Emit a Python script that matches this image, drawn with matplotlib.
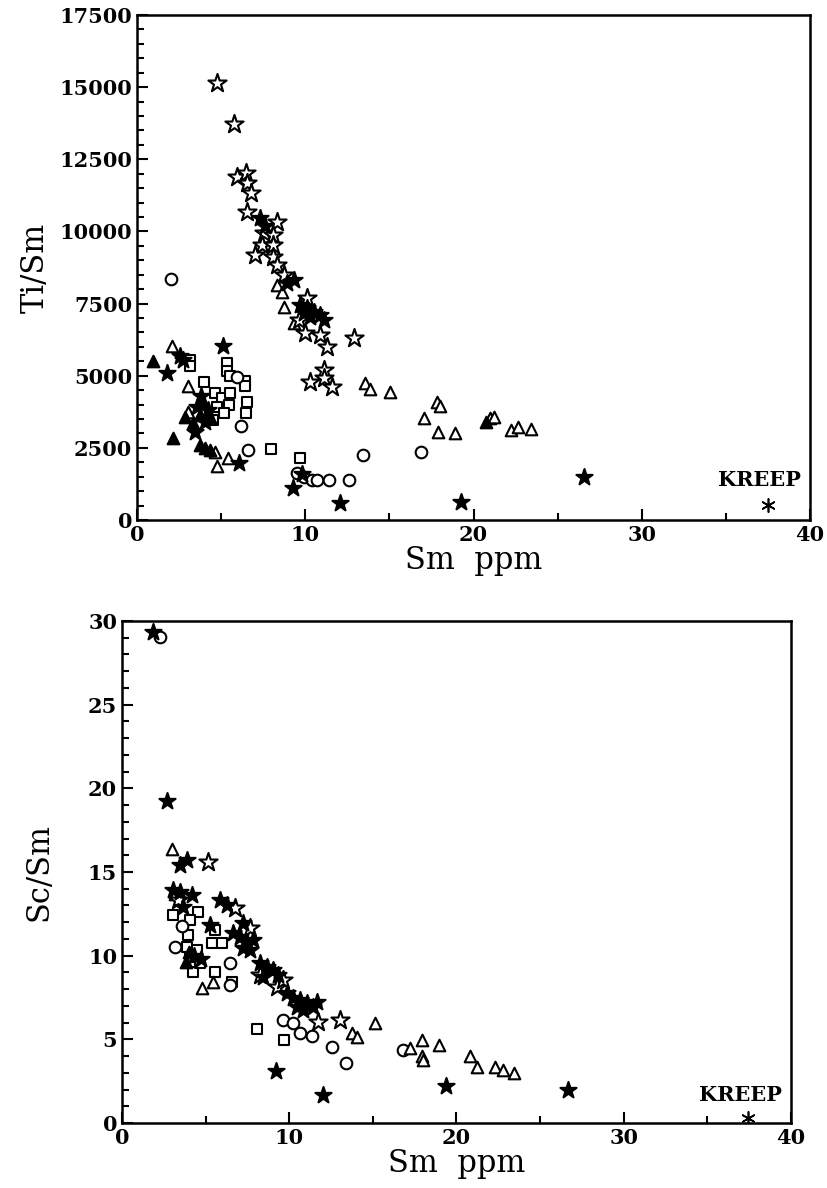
import matplotlib
matplotlib.use('Agg')
import matplotlib.pyplot as plt
from matplotlib.ticker import MultipleLocator

# ---- Ti/Sm vs Sm (upper panel) ----
ti_ostar_x = [4.78, 5.77, 5.93, 6.49, 6.53, 6.77, 6.53, 8.32, 7.52, 8.11, 7.42, 8.11, 7.02, 8.11,
              8.32, 8.71, 10.1, 9.6, 10.0, 10.9, 11.3, 12.9, 10.3, 11.1, 11.13, 11.6]
ti_ostar_y = [15150, 13720, 11900, 12010, 11690, 11320, 10680, 10340, 9930, 9870, 9530, 9530, 9180, 9120,
              8840, 8490, 7680, 6930, 6470, 6410, 6010, 6300, 4790, 5200, 4910, 4620]
ti_fstar_x = [7.32, 7.6, 8.91, 9.3, 9.7, 10.1, 10.5, 10.9, 10.3, 9.9, 11.1, 9.8, 9.27, 12.08, 1.8,
              2.56, 2.76, 5.1, 3.45, 6.09, 19.27, 26.57, 3.55, 4.24, 4.05, 3.8]
ti_fstar_y = [10450, 10200, 8200, 8320, 7450, 7340, 7220, 7100, 7040, 7160, 6930, 1590, 1100, 580, 5080,
              5680, 5540, 6030, 3060, 1960, 630, 1480, 3930, 3810, 3410, 4300]
ti_ftri_x = [0.97, 2.86, 2.12, 3.75, 4.05, 4.35, 3.75, 4.35, 3.35, 20.77, 3.95]
ti_ftri_y = [5520, 3580, 2830, 2600, 2480, 2430, 3640, 3580, 3350, 3410, 4100]
ti_otri_x = [2.07, 3.0, 3.0, 8.32, 8.61, 8.75, 9.3, 4.64, 4.78, 5.38, 17.08, 13.57, 13.87, 15.02,
             17.8, 18.0, 17.87, 18.87, 20.97, 21.2, 22.24, 22.64, 23.4]
ti_otri_y = [6030, 4640, 3750, 8140, 7910, 7390, 6810, 2370, 1870, 2140, 3520, 4740, 4530, 4450,
             4100, 3950, 3060, 3030, 3520, 3580, 3120, 3230, 3140]
ti_osq_x = [3.15, 3.15, 5.34, 5.34, 5.54, 6.43, 6.43, 6.53, 6.49, 3.99, 4.64, 5.04, 5.54, 4.74,
            5.44, 5.14, 4.54, 7.99, 9.66]
ti_osq_y = [5540, 5340, 5450, 5170, 4990, 4830, 4640, 4100, 3720, 4790, 4390, 4220, 4390, 3930,
            3990, 3700, 3470, 2450, 2140]
ti_ocirc_x = [2.0, 5.93, 6.17, 6.57, 9.5, 9.9, 10.4, 10.7, 11.4, 12.6, 13.43, 16.85]
ti_ocirc_y = [8340, 4970, 3260, 2430, 1620, 1480, 1390, 1370, 1390, 1370, 2250, 2370]
ti_kreep = (37.48, 520)

# ---- Sc/Sm vs Sm (lower panel) ----
sc_fstar_x = [1.87, 2.71, 3.47, 3.87, 3.07, 3.47, 4.17, 3.67, 5.26, 5.86, 6.26, 7.25, 6.65, 7.05,
              7.45, 7.65, 7.85, 7.25, 8.25, 8.65, 8.45, 9.04, 9.34, 9.84, 10.24, 10.64, 11.04,
              11.44, 10.44, 10.84, 11.64, 9.2, 12.0, 19.37, 26.68, 4.3, 4.7]
sc_fstar_y = [29.37, 19.27, 15.42, 15.72, 13.93, 13.83, 13.63, 12.93, 11.83, 13.33, 13.03, 11.94,
              11.34, 11.14, 10.74, 10.34, 10.94, 10.44, 9.54, 9.34, 8.75, 9.14, 8.85, 7.75, 7.45,
              7.35, 7.15, 6.95, 6.95, 6.75, 7.25, 3.1, 1.7, 2.21, 1.97, 10.0, 9.8]
sc_ostar_x = [5.16, 6.75, 7.65, 8.25, 9.24, 9.64, 11.74, 13.03, 3.37]
sc_ostar_y = [15.62, 12.83, 11.64, 8.85, 8.15, 8.55, 6.06, 6.16, 13.33]
sc_otri_x = [2.97, 4.76, 5.46, 15.12, 13.73, 14.03, 17.21, 17.91, 17.91, 17.97, 18.97, 20.8, 21.24,
             22.3, 22.76, 23.43, 3.2]
sc_otri_y = [16.4, 8.05, 8.45, 5.96, 5.36, 5.12, 4.46, 4.96, 4.0, 3.77, 4.66, 4.0, 3.33,
             3.33, 3.17, 2.97, 13.7]
sc_osq_x = [3.07, 4.56, 4.06, 5.56, 3.97, 3.87, 4.06, 4.26, 4.46, 4.66, 5.36, 5.96, 5.56, 6.56,
            8.05, 9.68]
sc_osq_y = [12.43, 12.63, 12.13, 11.53, 11.24, 10.54, 9.94, 9.04, 10.34, 9.54, 10.74, 10.74, 9.04,
            8.45, 5.6, 4.96]
sc_ocirc_x = [2.27, 3.17, 6.46, 6.46, 9.64, 10.24, 10.64, 11.34, 12.53, 13.4, 16.82, 3.6]
sc_ocirc_y = [29.07, 10.54, 9.54, 8.25, 6.16, 5.96, 5.36, 5.2, 4.56, 3.6, 4.36, 11.8]
sc_ftri_x = [4.0, 3.8]
sc_ftri_y = [10.2, 9.6]
sc_kreep = (37.44, 0.28)

plt.rcParams['font.family'] = 'DejaVu Serif'

fig = plt.figure(figsize=(8.28, 11.88), dpi=100)
ax1 = fig.add_axes([0.1655, 0.5623, 0.8128, 0.4251])
ax2 = fig.add_axes([0.1473, 0.0547, 0.8080, 0.4226])


def draw(ax, ostar, fstar, otri, ftri, osq, ocirc, kreep):
    kw = dict(edgecolors='black', linewidths=1.5, zorder=3)
    ax.scatter(osq[0], osq[1], marker='s', s=55, facecolors='white', **kw)
    ax.scatter(ocirc[0], ocirc[1], marker='o', s=70, facecolors='white', **kw)
    ax.scatter(otri[0], otri[1], marker='^', s=70, facecolors='white', **kw)
    ax.scatter(ftri[0], ftri[1], marker='^', s=70, facecolors='black', **kw)
    ax.scatter(ostar[0], ostar[1], marker='*', s=190, facecolors='white', **kw)
    ax.scatter(fstar[0], fstar[1], marker='*', s=150, facecolors='black', **kw)
    ax.scatter([kreep[0]], [kreep[1]], marker=(6, 2, 0), s=90, color='black',
               linewidths=1.2, zorder=3)


draw(ax1, (ti_ostar_x, ti_ostar_y), (ti_fstar_x, ti_fstar_y), (ti_otri_x, ti_otri_y),
     (ti_ftri_x, ti_ftri_y), (ti_osq_x, ti_osq_y), (ti_ocirc_x, ti_ocirc_y), ti_kreep)
draw(ax2, (sc_ostar_x, sc_ostar_y), (sc_fstar_x, sc_fstar_y), (sc_otri_x, sc_otri_y),
     (sc_ftri_x, sc_ftri_y), (sc_osq_x, sc_osq_y), (sc_ocirc_x, sc_ocirc_y), sc_kreep)

ax1.text(37.0, 1390, 'KREEP', ha='center', va='center', fontsize=15, fontweight='bold')
ax2.text(37.0, 1.67, 'KREEP', ha='center', va='center', fontsize=15, fontweight='bold')

ax1.set_xlim(0, 40)
ax1.set_ylim(0, 17500)
ax1.yaxis.set_major_locator(MultipleLocator(2500))
ax1.yaxis.set_minor_locator(MultipleLocator(500))
ax1.set_ylabel('Ti/Sm', fontsize=22, labelpad=6)

ax2.set_xlim(0, 40)
ax2.set_ylim(0, 30)
ax2.yaxis.set_major_locator(MultipleLocator(5))
ax2.yaxis.set_minor_locator(MultipleLocator(1))
ax2.set_ylabel('Sc/Sm', fontsize=22, labelpad=24)

for ax in (ax1, ax2):
    ax.xaxis.set_major_locator(MultipleLocator(10))
    ax.xaxis.set_minor_locator(MultipleLocator(5))
    ax.set_xlabel('Sm  ppm', fontsize=22, labelpad=0)
    ax.tick_params(which='both', direction='in', top=False, right=False,
                   labelsize=15, width=1.5)
    ax.tick_params(which='major', length=8)
    ax.tick_params(which='minor', length=5)
    for lab in ax.get_xticklabels() + ax.get_yticklabels():
        lab.set_fontweight('bold')
    for sp in ax.spines.values():
        sp.set_linewidth(1.8)

plt.savefig('out.png', dpi=100)
